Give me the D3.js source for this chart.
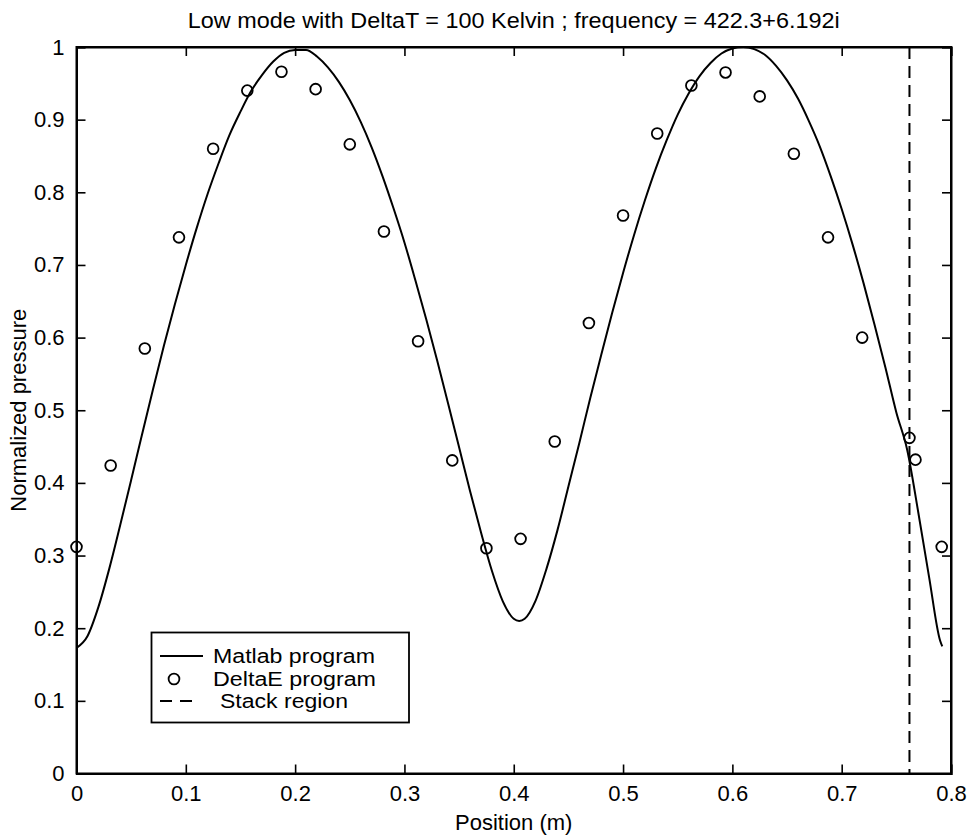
<!DOCTYPE html>
<html>
<head>
<meta charset="utf-8">
<script src="https://cdn.jsdelivr.net/npm/d3@7"></script>
<style>
html,body{margin:0;padding:0;background:#fff;}
text{font-family:"Liberation Sans",Arial,Helvetica,sans-serif;fill:#000;}
</style>
</head>
<body>
<svg id="chart" width="974" height="839"></svg>
<script>
// ---- data ----
const titleText = "Low mode with DeltaT = 100 Kelvin ; frequency = 422.3+6.192i";
const xLabel = "Position (m)";
const yLabel = "Normalized pressure";
const xTicks = [0,0.1,0.2,0.3,0.4,0.5,0.6,0.7,0.8];
const yTicks = [0,0.1,0.2,0.3,0.4,0.5,0.6,0.7,0.8,0.9,1];
const xTickLabels = ["0","0.1","0.2","0.3","0.4","0.5","0.6","0.7","0.8"];
const yTickLabels = ["0","0.1","0.2","0.3","0.4","0.5","0.6","0.7","0.8","0.9","1"];

// Matlab program (solid line)
const matlabX = [0,0.01,0.02,0.03,0.04,0.05,0.06,0.07,0.08,0.09,0.10,0.11,0.12,0.13,0.14,0.15,0.16,0.17,0.18,0.19,0.20,
  0.21,0.22,0.23,0.24,0.25,0.26,0.27,0.28,0.29,0.30,0.31,0.32,0.33,0.34,0.35,0.36,0.37,0.38,0.39,0.40,0.405,
  0.41,0.42,0.43,0.44,0.45,0.46,0.47,0.48,0.49,0.50,0.51,0.52,0.53,0.54,0.55,0.56,0.57,0.58,0.59,0.60,0.61,
  0.62,0.63,0.64,0.65,0.66,0.67,0.68,0.69,0.70,0.71,0.72,0.73,0.74,0.75,0.76,0.77,0.78,0.79,0.792];
const matlabY = [0.173,0.189,0.229,0.282,0.342,0.404,0.467,0.529,0.589,0.646,0.700,0.751,0.798,0.840,0.879,0.911,0.940,0.962,0.980,0.992,0.996,
  0.996,0.987,0.972,0.952,0.927,0.897,0.862,0.822,0.778,0.731,0.679,0.625,0.568,0.509,0.449,0.389,0.332,0.279,0.237,0.213,0.210,
  0.213,0.238,0.282,0.335,0.395,0.455,0.517,0.576,0.634,0.689,0.741,0.789,0.833,0.872,0.907,0.936,0.960,0.978,0.991,0.998,1.000,
  0.997,0.989,0.974,0.954,0.929,0.898,0.863,0.822,0.777,0.728,0.675,0.618,0.559,0.497,0.445,0.360,0.270,0.183,0.175];

// DeltaE program (circles)
const deltaEX = [0,0.03125,0.0625,0.09375,0.125,0.15625,0.1875,0.21875,0.25,0.28125,0.3125,0.34375,0.375,0.40625,
  0.4375,0.46875,0.5,0.53125,0.5625,0.59375,0.625,0.65625,0.6875,0.71875,0.762,0.7675,0.7915];
const deltaEY = [0.312,0.424,0.585,0.738,0.860,0.940,0.966,0.942,0.866,0.746,0.595,0.431,0.310,0.323,
  0.457,0.620,0.768,0.881,0.947,0.965,0.932,0.853,0.738,0.600,0.462,0.432,0.312];

// Stack region boundary
const stackX = [0.762];

const legendLabels = ["Matlab program","DeltaE program","Stack region"];

// ---- layout ----
const svg = d3.select("#chart");
const M = {left:76.5, right:951, top:47, bottom:773.5};
const x = d3.scaleLinear().domain([0,0.8]).range([M.left,M.right]);
const y = d3.scaleLinear().domain([0,1]).range([M.bottom,M.top]);

// title
svg.append("text").attr("x",(M.left+M.right)/2).attr("y",28)
  .attr("text-anchor","middle").attr("font-size",22)
  .attr("textLength",652).attr("lengthAdjust","spacingAndGlyphs")
  .text(titleText);

// axes (ticks inward on all sides)
const tl = 9;
const gB = svg.append("g").attr("transform",`translate(0,${M.bottom})`)
  .call(d3.axisBottom(x).tickValues(xTicks).tickSize(-tl).tickPadding(12)
    .tickFormat((d,i)=>xTickLabels[i]));
const gT = svg.append("g").attr("transform",`translate(0,${M.top})`)
  .call(d3.axisTop(x).tickValues(xTicks).tickSize(-tl).tickFormat(""));
const gL = svg.append("g").attr("transform",`translate(${M.left},0)`)
  .call(d3.axisLeft(y).tickValues(yTicks).tickSize(-tl).tickPadding(12)
    .tickFormat((d,i)=>yTickLabels[i]));
const gR = svg.append("g").attr("transform",`translate(${M.right},0)`)
  .call(d3.axisRight(y).tickValues(yTicks).tickSize(-tl).tickFormat(""));
[gB,gT,gL,gR].forEach(g=>{
  g.select(".domain").attr("stroke","#000").attr("stroke-width",2);
  g.selectAll(".tick line").attr("stroke","#000").attr("stroke-width",1.6);
  g.selectAll(".tick text").attr("font-size",22).attr("font-family","Liberation Sans, Arial, sans-serif").attr("fill","#000");
});
gB.selectAll(".tick text").attr("dy","0.71em");
// box outline
svg.append("rect").attr("x",M.left).attr("y",M.top).attr("width",M.right-M.left).attr("height",M.bottom-M.top)
  .attr("fill","none").attr("stroke","#000").attr("stroke-width",2);

// axis labels
svg.append("text").attr("x",(M.left+M.right)/2).attr("y",830)
  .attr("text-anchor","middle").attr("font-size",22).text(xLabel);
svg.append("text").attr("transform",`translate(26,${(M.top+M.bottom)/2}) rotate(-90)`)
  .attr("text-anchor","middle").attr("font-size",22).text(yLabel);

// stack region dashed line
svg.selectAll(".stack").data(stackX).enter().append("line")
  .attr("x1",d=>x(d)).attr("x2",d=>x(d)).attr("y1",y(1)).attr("y2",y(0))
  .attr("stroke","#000").attr("stroke-width",2).attr("stroke-dasharray","12,7");

// Matlab line
const lineData = matlabX.map((v,i)=>[v,matlabY[i]]);
svg.append("path").datum(lineData)
  .attr("d",d3.line().x(d=>x(d[0])).y(d=>y(d[1])).curve(d3.curveMonotoneX))
  .attr("fill","none").attr("stroke","#000").attr("stroke-width",2);

// DeltaE circles
svg.selectAll(".pt").data(deltaEX.map((v,i)=>[v,deltaEY[i]])).enter().append("circle")
  .attr("cx",d=>x(d[0])).attr("cy",d=>y(d[1])).attr("r",5.4)
  .attr("fill","none").attr("stroke","#000").attr("stroke-width",1.8);

// legend
const lg = svg.append("g");
lg.append("rect").attr("x",151.5).attr("y",632.5).attr("width",257.5).attr("height",90)
  .attr("fill","#fff").attr("stroke","#000").attr("stroke-width",1.8);
lg.append("line").attr("x1",160).attr("x2",203).attr("y1",656).attr("y2",656)
  .attr("stroke","#000").attr("stroke-width",2);
lg.append("circle").attr("cx",174).attr("cy",679).attr("r",5.4)
  .attr("fill","none").attr("stroke","#000").attr("stroke-width",1.8);
lg.append("line").attr("x1",160).attr("x2",197).attr("y1",701).attr("y2",701)
  .attr("stroke","#000").attr("stroke-width",1.8).attr("stroke-dasharray","12,8");
const lgY = [663,686,708];
const lgX = [213,213,220];
const lgW = [162,163,128];
legendLabels.forEach((t,i)=>{
  lg.append("text").attr("x",lgX[i]).attr("y",lgY[i]).attr("font-size",19.5)
    .attr("textLength",lgW[i]).attr("lengthAdjust","spacingAndGlyphs").text(t);
});
</script>
</body>
</html>
